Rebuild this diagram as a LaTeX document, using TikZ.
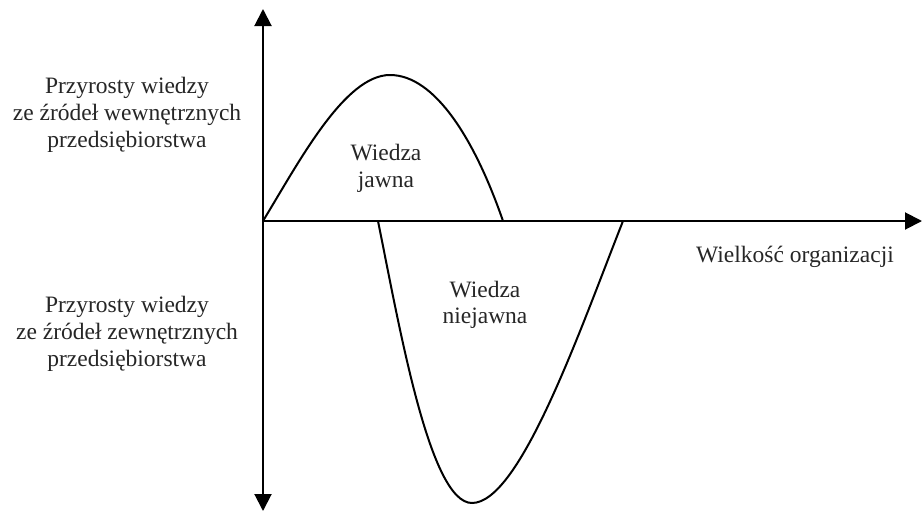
\documentclass[tikz,border=0pt]{standalone}
\usepackage{fontspec}
\setmainfont{Liberation Serif}
\usetikzlibrary{arrows.meta}
\begin{document}
\begin{tikzpicture}[x=1pt,y=-1pt,
  axis/.style={line width=2pt,-{Triangle[length=17pt,width=17pt]}},
  curve/.style={line width=2pt,line join=round},
  lbl/.style={font=\fontsize{23.5}{27}\selectfont,inner sep=0pt,anchor=base,text=black!85}]
\useasboundingbox (0,0) rectangle (922,512);
\coordinate (O) at (263,221);
\coordinate (top) at (263,9);
\coordinate (bot) at (263,511);
\coordinate (right) at (922,221);
\coordinate (a1) at (503,221);
\coordinate (b0) at (378,221);
\coordinate (b1) at (623,221);
\coordinate (peak) at (390,75);
\coordinate (trough) at (472,503);
\draw[axis] (O) -- (top);
\draw[axis] (O) -- (bot);
\draw[axis] (O) -- (right);
\draw[curve] (O) .. controls (300,160) and (345,75) .. (peak)
                 .. controls (435,75) and (475,140) .. (a1);
\draw[curve] (b0) .. controls (400,330) and (430,503) .. (trough)
                  .. controls (520,503) and (580,330) .. (b1);
\node[lbl] (u1) at (127,93) {Przyrosty wiedzy};
\node[lbl] (u2) at (127,120) {ze źródeł wewnętrznych};
\node[lbl] (u3) at (127,147) {przedsiębiorstwa};
\node[lbl] (l1) at (127,312) {Przyrosty wiedzy};
\node[lbl] (l2) at (127,339) {ze źródeł zewnętrznych};
\node[lbl] (l3) at (127,366) {przedsiębiorstwa};
\node[lbl] (j1) at (386,160) {Wiedza};
\node[lbl] (j2) at (386,187) {jawna};
\node[lbl] (n1) at (485,297) {Wiedza};
\node[lbl] (n2) at (485,323) {niejawna};
\node[lbl] (w) at (795,262) {Wielkość organizacji};
\end{tikzpicture}
\end{document}
